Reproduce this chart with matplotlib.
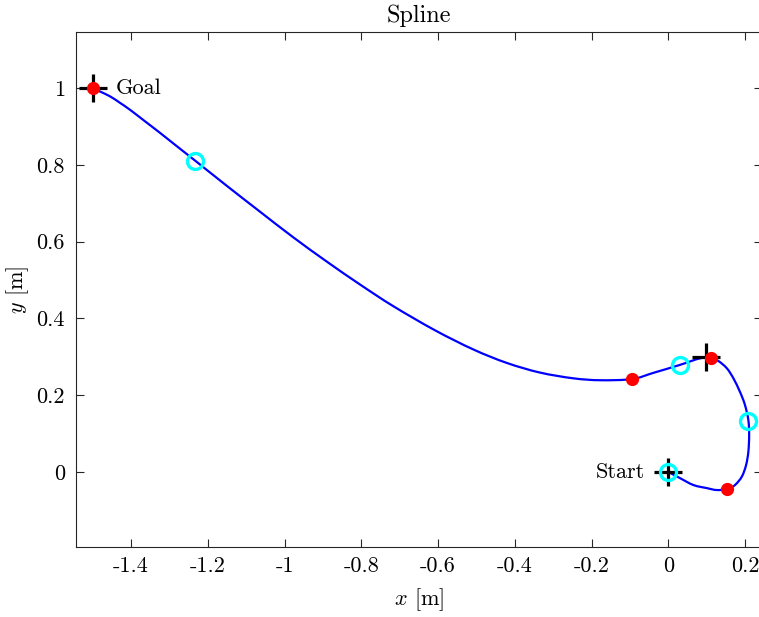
import matplotlib
matplotlib.use("Agg")
import matplotlib.pyplot as plt
from matplotlib.path import Path
from matplotlib.patches import PathPatch

plt.rcParams["font.family"] = "serif"
plt.rcParams["font.serif"] = ["cmr10", "DejaVu Serif"]
plt.rcParams["mathtext.fontset"] = "cm"
plt.rcParams["axes.unicode_minus"] = False

# Spline path from the goal back to the start point
path_x = [-1.500, -1.481, -1.454, -1.428, -1.402, -1.363, -1.324, -1.285, -1.233,
          -1.150, -1.064, -0.977, -0.890, -0.803, -0.717, -0.608, -0.508, -0.421,
          -0.335, -0.248, -0.178, -0.095, -0.040, 0.030, 0.082, 0.110, 0.130,
          0.152, 0.169, 0.186, 0.199, 0.208, 0.210, 0.208, 0.202, 0.191, 0.173,
          0.154, 0.126, 0.100, 0.065, 0.030, 0.0]
path_y = [1.000, 0.991, 0.978, 0.961, 0.943, 0.913, 0.883, 0.852, 0.811,
          0.745, 0.678, 0.611, 0.548, 0.488, 0.432, 0.369, 0.319, 0.284,
          0.259, 0.244, 0.239, 0.242, 0.258, 0.279, 0.296, 0.297, 0.289,
          0.270, 0.244, 0.209, 0.175, 0.135, 0.096, 0.053, 0.018, -0.012, -0.034,
          -0.044, -0.047, -0.042, -0.034, -0.016, 0.0]

# Waypoints (start, via, goal)
way_x = [0.0, 0.098, -1.5]
way_y = [0.0, 0.299, 1.0]

# Spline knots
knot_x = [-1.5, -0.095, 0.110, 0.153]
knot_y = [1.0, 0.242, 0.296, -0.044]

# Sampled control points
ctrl_x = [0.0, 0.207, 0.030, -1.233]
ctrl_y = [0.0, 0.133, 0.279, 0.810]

xticks = [-1.4, -1.2, -1.0, -0.8, -0.6, -0.4, -0.2, 0.0, 0.2]
xtick_labels = ["-1.4", "-1.2", "-1", "-0.8", "-0.6", "-0.4", "-0.2", "0", "0.2"]
yticks = [0.0, 0.2, 0.4, 0.6, 0.8, 1.0]
ytick_labels = ["0", "0.2", "0.4", "0.6", "0.8", "1"]


def smooth_path(xs, ys):
    """Catmull-Rom curve through the points, drawn as cubic Bezier segments."""
    pts = list(zip(xs, ys))
    verts = [pts[0]]
    codes = [Path.MOVETO]
    n = len(pts)
    for i in range(n - 1):
        p0 = pts[i - 1] if i > 0 else pts[i]
        p1 = pts[i]
        p2 = pts[i + 1]
        p3 = pts[i + 2] if i + 2 < n else pts[i + 1]
        c1 = (p1[0] + (p2[0] - p0[0]) / 6, p1[1] + (p2[1] - p0[1]) / 6)
        c2 = (p2[0] - (p3[0] - p1[0]) / 6, p2[1] - (p3[1] - p1[1]) / 6)
        verts += [c1, c2, p2]
        codes += [Path.CURVE4] * 3
    return Path(verts, codes)


W, H = 759, 617
fig = plt.figure(figsize=(W / 100, H / 100), dpi=100)
ax = fig.add_axes([76 / W, 70 / H, (762 - 76) / W, (547 - 32) / H])

ax.add_patch(PathPatch(smooth_path(path_x, path_y), facecolor="none",
                       edgecolor=(0, 0, 1), lw=1.6, zorder=2))
ax.plot(way_x, way_y, linestyle="none", marker="+", color="black",
        markersize=20, markeredgewidth=2.3, zorder=3)
ax.plot(knot_x, knot_y, linestyle="none", marker="o", color=(1, 0, 0),
        markersize=9.5, markeredgewidth=0, zorder=4)
ax.plot(ctrl_x, ctrl_y, linestyle="none", marker="o", markerfacecolor="none",
        markeredgecolor=(0, 1, 1), markersize=11.5, markeredgewidth=2.4, zorder=5)

ax.text(-1.44, 1.0, "Goal", ha="left", va="center", fontsize=16)
ax.text(-0.062, 0.0, "Start", ha="right", va="center", fontsize=16)

ax.set_xlim(-1.543, 0.2435)
ax.set_ylim(-0.1953, 1.1458)
ax.set_xticks(xticks)
ax.set_xticklabels(xtick_labels)
ax.set_yticks(yticks)
ax.set_yticklabels(ytick_labels)

edge = (0.15, 0.15, 0.15)
for s in ax.spines.values():
    s.set_color(edge)
    s.set_linewidth(0.8)
ax.tick_params(direction="in", length=6, width=0.8, colors=edge,
               labelsize=16, top=True, right=True)
ax.tick_params(axis="x", pad=7)
ax.tick_params(axis="y", pad=8)
for lab in ax.get_xticklabels() + ax.get_yticklabels():
    lab.set_color("black")

ax.set_xlabel(r"$x$ [m]", fontsize=16, labelpad=7)
ax.set_ylabel(r"$y$ [m]", fontsize=16, labelpad=4)
ax.set_title("Spline", fontsize=17.5, pad=7)

fig.savefig("out.png", dpi=100)
